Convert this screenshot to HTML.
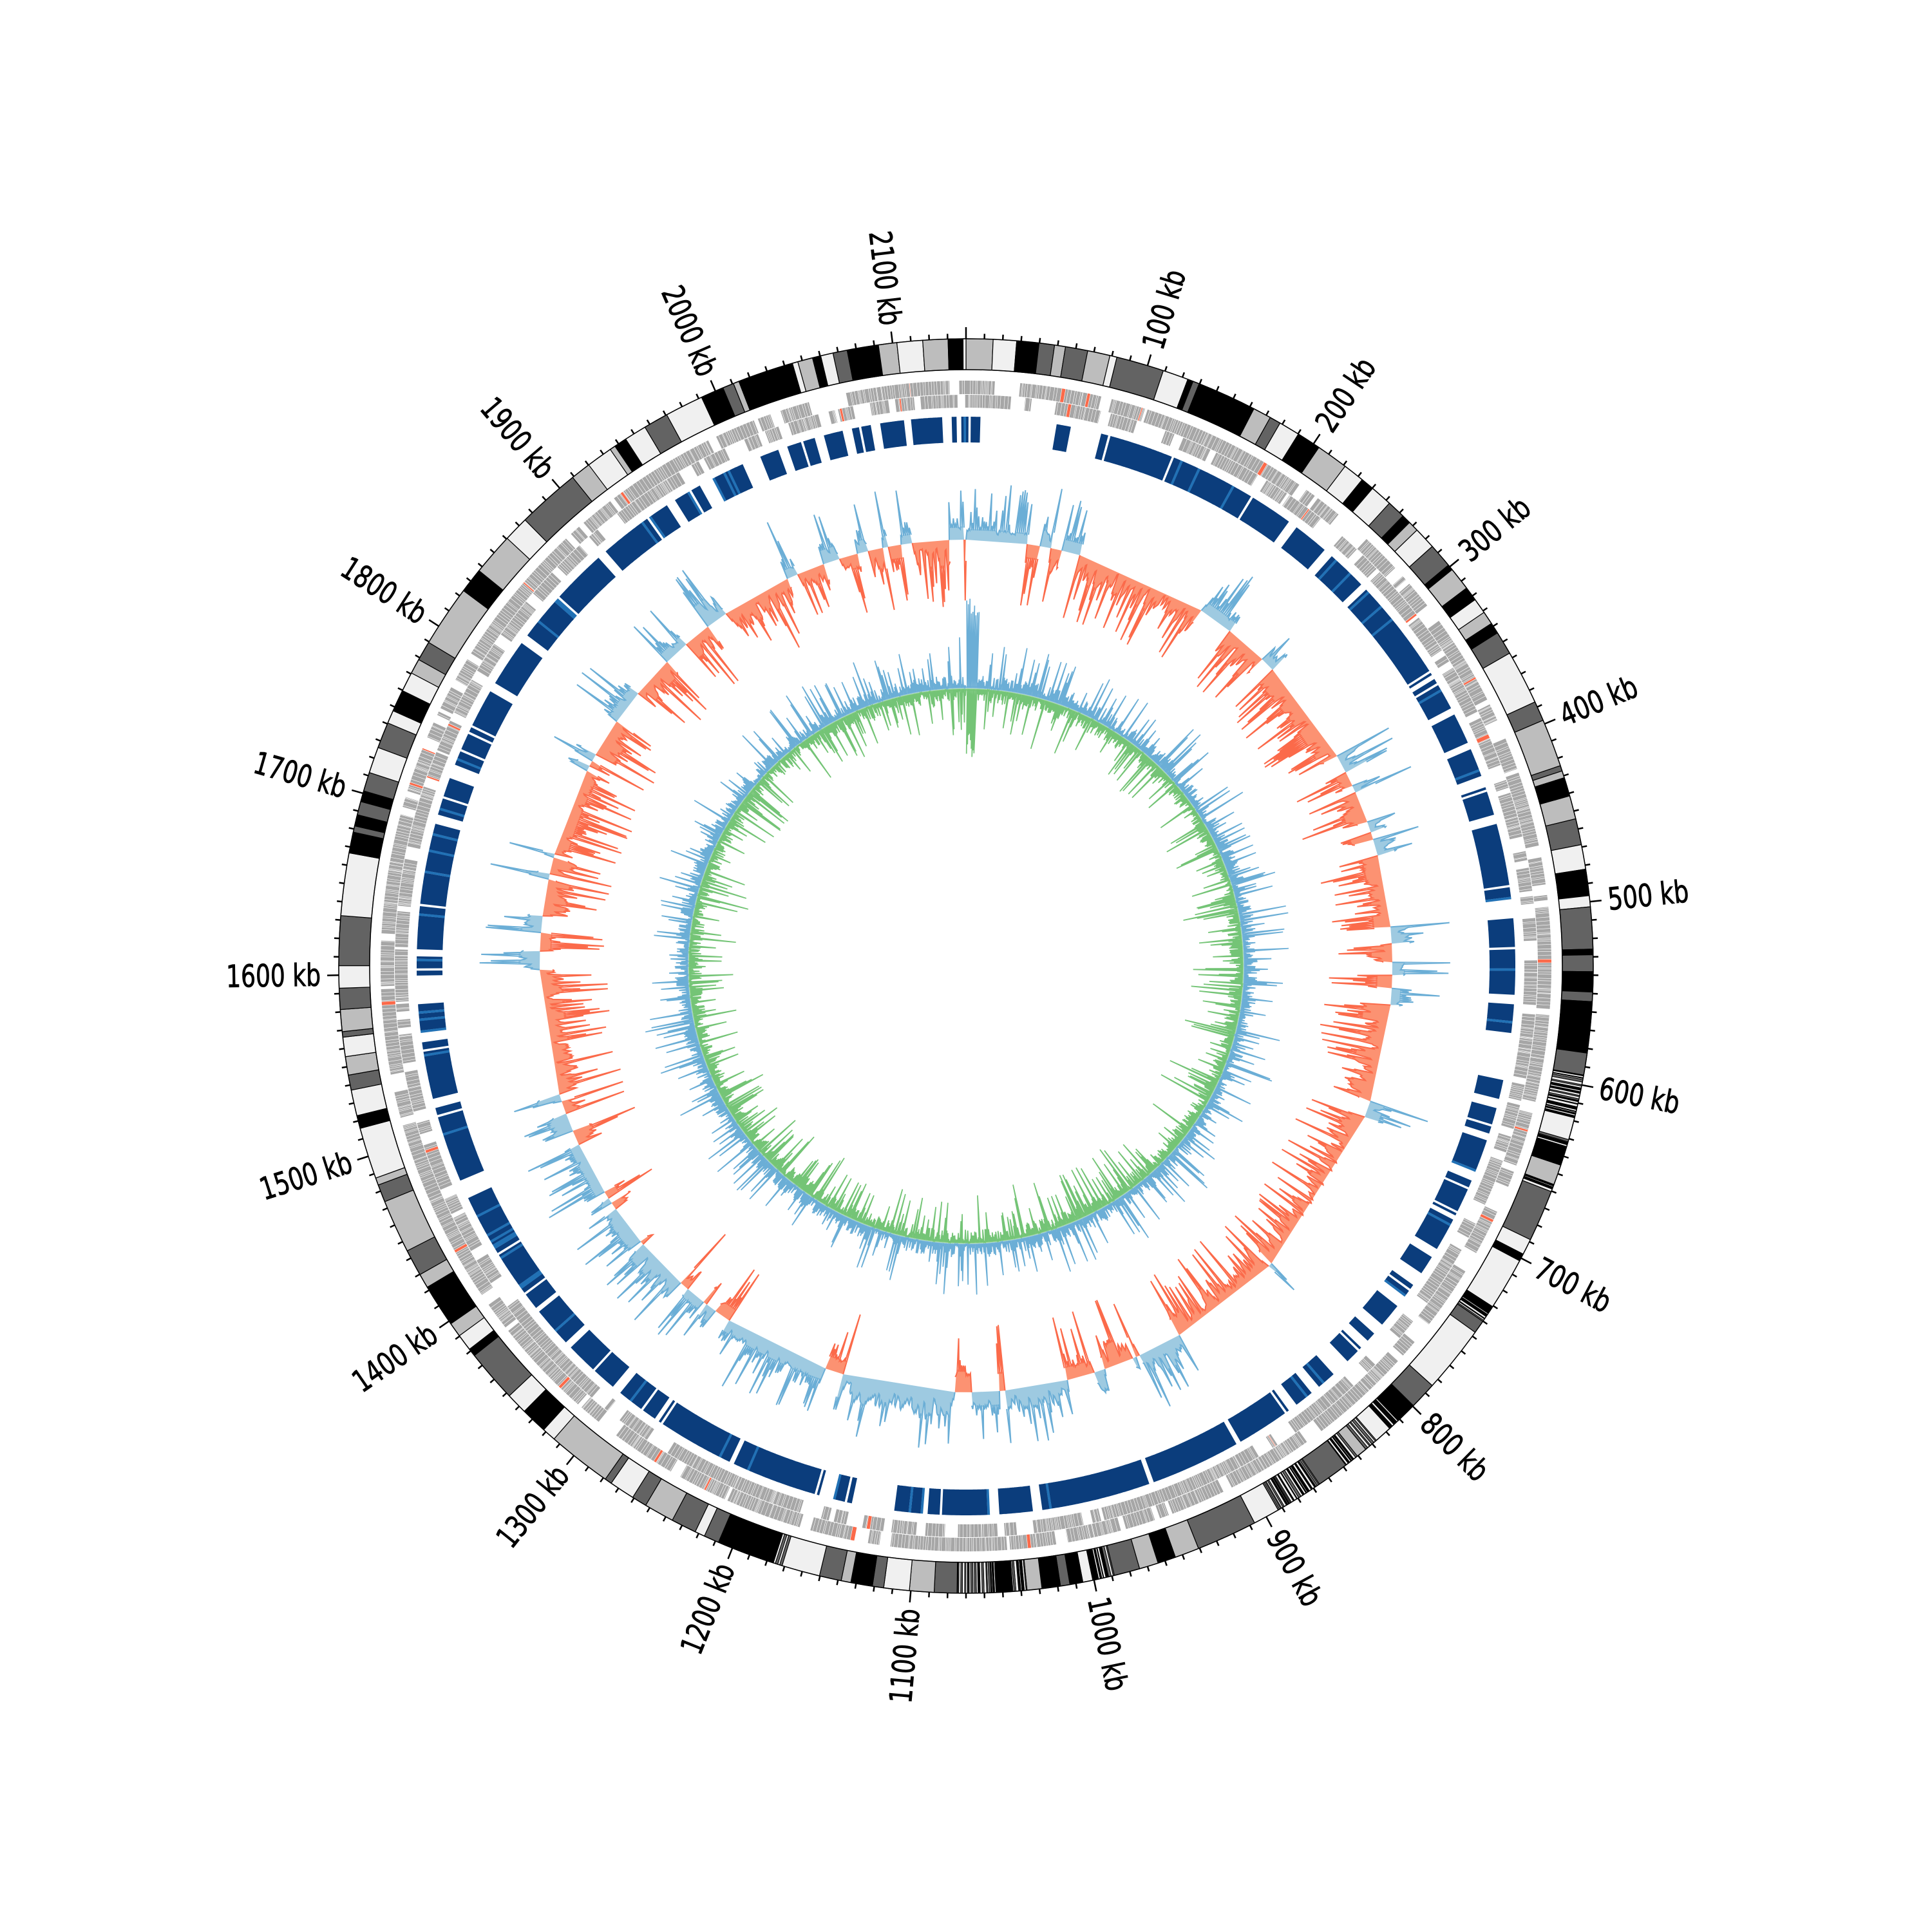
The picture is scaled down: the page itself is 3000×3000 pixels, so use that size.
<!DOCTYPE html>
<html><head><meta charset="utf-8"><style>
html,body{margin:0;padding:0;background:#fff;}
svg{display:block;}
text{font-family:"DejaVu Sans Condensed","Liberation Sans Narrow","Liberation Sans",sans-serif;font-size:48px;fill:#000;stroke:#000;stroke-width:0.8;}
</style></head><body>
<svg id="s" xmlns="http://www.w3.org/2000/svg" width="3000" height="3000" viewBox="0 0 3000 3000">
<rect width="3000" height="3000" fill="#fff"/>
<g id="g"></g>
<g id="lab">
<text x="0" y="0" transform="translate(1500,1500)">&#8203;</text>
</g>
</svg>
<script>
(function(){
var C=1500,TOT=2140;
function rng(a){return function(){a|=0;a=a+0x6D2B79F5|0;var t=Math.imul(a^a>>>15,1|a);t=t+Math.imul(t^t>>>7,61|t)^t;return((t^t>>>14)>>>0)/4294967296;}}
var R=rng(12345);
function P(r,t){var a=t*Math.PI/180;return (C+r*Math.sin(a)).toFixed(1)+","+(C-r*Math.cos(a)).toFixed(1);}
function sec(r1,r2,t1,t2){var l=(t2-t1)>180?1:0;return "M"+P(r2,t1)+"A"+r2+","+r2+" 0 "+l+" 1 "+P(r2,t2)+"L"+P(r1,t2)+"A"+r1+","+r1+" 0 "+l+" 0 "+P(r1,t1)+"Z";}
var out=[];
function path(d,fill,extra){out.push('<path d="'+d+'" fill="'+fill+'" '+(extra||'')+'/>');}
function deg(kb){return kb/TOT*360;}

var shades=["#f0f0f0","#bdbdbd","#636363","#000000"];
var kb=0,ideo="",last=-1;
function dense(k){var t=deg(k);return (t>100&&t<155)||(t>163&&t<185)||(t>190&&t<200);}
while(kb<TOT){
  var w,c;
  if(dense(kb)&&R()<0.45){
    var n=3+Math.floor(R()*8);
    for(var i=0;i<n&&kb<TOT;i++){w=0.3+R()*1.2;c=shades[(i%2)?0:3-Math.floor(R()*2)];
      ideo+='<path d="'+sec(926,974,deg(kb),deg(kb+w))+'" fill="'+c+'" stroke="#000" stroke-width="1"/>';kb+=w;}
    continue;
  }
  w=3+R()*12; if(R()<0.15)w+=10+R()*15;
  do{c=Math.floor(R()*4);}while(c===last);last=c;
  if(kb+w>TOT)w=TOT-kb;
  ideo+='<path d="'+sec(926,974,deg(kb),deg(kb+w))+'" fill="'+shades[c]+'" stroke="#000" stroke-width="1.2"/>';
  kb+=w;
}
out.push(ideo);
out.push('<circle cx="1500" cy="1500" r="974" fill="none" stroke="#000" stroke-width="1.5"/>');
out.push('<circle cx="1500" cy="1500" r="926" fill="none" stroke="#000" stroke-width="1.5"/>');
var tk="";
for(var k=0;k<TOT;k+=10){var t=deg(k),maj=(k%100===0);
  tk+="M"+P(974,t)+"L"+P(maj?992:982,t);}
out.push('<path d="'+tk+'" stroke="#000" stroke-width="2.5" fill="none"/>');

function genes(r1,r2,cov,seed){
  var Rg=rng(seed),k=0,d="",red="";
  while(k<TOT){
    if(Rg()<cov){
      var n=2+Math.floor(Rg()*10);
      for(var i=0;i<n&&k<TOT;i++){var w=0.4+Rg()*2.2;
        var s=sec(r1,r2,deg(k)+0.02,deg(k+w)-0.02);
        if(Rg()<0.015)red+=s;else d+=s; k+=w;}
    } else k+=1+Rg()*6;
  }
  path(d,"#a6a6a6");path(red,"#fb6a4a");
}
genes(888,909,0.62,7);
genes(867,887,0.55,99);

var gaps=[[357.5,358.3],[1.5,9.3],[10.8,14.2],[36,36.8],[41,41.6],[46,46.6],[58,58.5],[62,62.7],[66,66.6],[70,71],[74,75],[83,85],[87.8,88.2],[93,94],[97,102],[104,105],[108,108.5],[112,113],[117,117.5],[121,121.6],[124,125.5],[127,128.2],[131,131.8],[133,134],[136,138],[140,141],[143,144],[150,150.5],[160,160.5],[172,173],[176.3,177.5],[184,184.3],[187.5,191.8],[194,195.5],[205,205.5],[214,214.5],[219,220],[226,226.6],[231,231.5],[245,247],[255,256],[262,263],[266,268.8],[271,271.6],[285,286],[290,291.5],[300,301],[306,307],[318,319],[327,328],[331,332.5],[336,338],[340,341],[344,345],[347,348],[350,350.8],[353.5,354.2],[358.8,359.4]];
function inGap(t){for(var i=0;i<gaps.length;i++){if(t>=gaps[i][0]&&t<gaps[i][1])return true;}return false;}
var bd="",bl="",Rb=rng(555);
for(var t=0;t<360;t+=0.25){
  if(inGap(t))continue;
  var s=sec(813,853,t,t+0.26);
  if(Rb()<0.04)bl+=s;else if(Rb()<0.04)continue;else bd+=s;
}
path(bd,"#0b3d7c");path(bl,"#2171b5");

function pBlue(t){
  if(t<8)return 1; if(t<15)return 0.35; if(t<60)return 0.12; if(t<85)return 0.15; if(t<95)return 0.35;
  if(t<150)return 0.12; if(t<165)return 0.4; if(t<235)return 0.85; if(t<250)return 0.6;
  if(t>268&&t<276)return 0.85; if(t<300)return 0.25; if(t<330)return 0.55; if(t<352)return 0.5; return 0.35;
}
var N=1440,step=360/N,Rc=rng(2024);
function track(base,posMax,negMax,posFill,posLine,negFill,negLine,signFn,lw){
  var sign=[],val=[];
  var i=0;
  while(i<N){var t=i*step,len=2+Math.floor(Rc()*9),sg=(Rc()<signFn(t))?1:-1;
    for(var j=0;j<len&&i<N;j++,i++){sign[i]=sg;}}
  for(i=0;i<N;i++){var m=sign[i]>0?posMax:negMax;var v=m*(0.1+0.3*Rc());if(Rc()<0.3)v=m*(0.45+0.55*Rc());val[i]=v;}
  var fills={1:"",'-1':""},lines={1:"",'-1':""};
  i=0;
  while(i<N){var sg=sign[i],st=i;while(i<N&&sign[i]===sg)i++;var en=i;
    var f="M"+P(base,st*step),l="M"+P(base,st*step);
    var lvl=(sg>0?posMax:negMax)*(0.15+0.3*Rc());
    for(var k=st;k<en;k++){
      var env=Math.min(val[k],lvl);
      var tt=(k+0.5)*step;
      f+="L"+P(base+sg*env,tt);
      l+="L"+P(base+sg*val[k],tt)+"L"+P(base+sg*env*0.9,tt+step*0.5);
    }
    f+="L"+P(base,en*step)+"Z";
    fills[sg]+=f;lines[sg]+=l;}
  path(fills[1],posFill);path(fills[-1],negFill);
  out.push('<path d="'+lines[1]+'" fill="none" stroke="'+posLine+'" stroke-width="'+lw+'"/>');
  out.push('<path d="'+lines[-1]+'" fill="none" stroke="'+negLine+'" stroke-width="'+lw+'"/>');
}
track(662,95,105,"#9ecae1","#6baed6","#fc9272","#fb6a4a",pBlue,2);

var Ri=rng(77),B=431;
var bL="",gL="",bF="",gF="";
var back="";
for(var d2=360;d2>=0;d2-=0.5)back+="L"+P(B,d2);
for(var i=0;i<N;i++){
  var t=(i+0.5)*step;
  var bv=2+Ri()*20; if(Ri()<0.2)bv+=15+Ri()*45;
  var gv=2+Ri()*20; if(Ri()<0.2)gv+=15+Ri()*50;
  if(Math.abs(t-1)<1.2){bv=110+Ri()*30;gv=70+Ri()*40;}
  var c=(i===0?"M":"L");
  bL+=c+P(B+bv,t)+"L"+P(B+1,t+step*0.5);
  gL+=c+P(B-gv,t)+"L"+P(B-1,t+step*0.5);
  bF+=c+P(B+Math.min(bv,4),t);
  gF+=c+P(B-Math.min(gv,4),t);
}
bF+=back+"Z";gF+=back+"Z";
path(bF,"#9ecae1");path(gF,"#a1d99b");
out.push('<path d="'+gL+'" fill="none" stroke="#74c476" stroke-width="1.7"/>');
out.push('<path d="'+bL+'" fill="none" stroke="#6baed6" stroke-width="1.7"/>');

document.getElementById("g").innerHTML=out.join("");

var lab="";
for(var k=100;k<TOT;k+=100){
  var t=deg(k),txt=k+" kb";
  var pt=P(1002,t).split(",");
  var w=txt.length*21;
  if(t<180){
    lab+='<text x="'+pt[0]+'" y="'+pt[1]+'" text-anchor="start" dominant-baseline="central" textLength="'+w+'" lengthAdjust="spacingAndGlyphs" transform="rotate('+(t-90).toFixed(2)+' '+pt[0]+' '+pt[1]+')">'+txt+'</text>';
  } else {
    lab+='<text x="'+pt[0]+'" y="'+pt[1]+'" text-anchor="end" dominant-baseline="central" textLength="'+w+'" lengthAdjust="spacingAndGlyphs" transform="rotate('+(t-270).toFixed(2)+' '+pt[0]+' '+pt[1]+')">'+txt+'</text>';
  }
}
document.getElementById("lab").innerHTML=lab;
})();
</script>
</body></html>
